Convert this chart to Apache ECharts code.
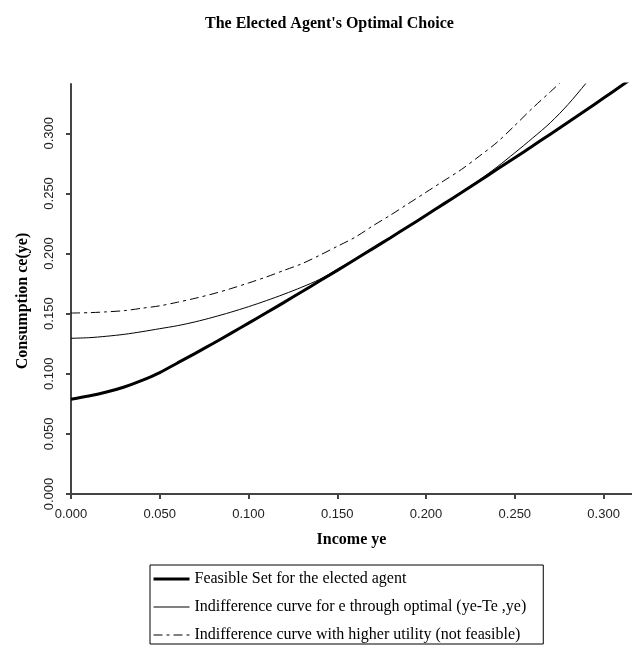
<!DOCTYPE html>
<html>
<head>
<meta charset="utf-8">
<script src="https://cdn.jsdelivr.net/npm/echarts@6/dist/echarts.min.js"></script>
<style>
  html, body { margin: 0; padding: 0; background: #fff; }
  #main { width: 632px; height: 646px; }
</style>
</head>
<body>
<div id="main"></div>
<script>
// income ye (x) values and the three curves
var incomeYe = [0, 0.01, 0.02, 0.03, 0.04, 0.05, 0.06, 0.07, 0.08, 0.09, 0.10,
  0.11, 0.12, 0.13, 0.14, 0.15, 0.16, 0.17, 0.18, 0.19, 0.20,
  0.21, 0.22, 0.23, 0.24, 0.25, 0.26, 0.27, 0.28, 0.29, 0.30, 0.31, 0.32];

var feasibleSet = [0.0788, 0.0815, 0.0848, 0.0890, 0.0945, 0.1010, 0.1090, 0.1170, 0.1252, 0.1336, 0.1421,
  0.1507, 0.1594, 0.1682, 0.1771, 0.1860, 0.1950, 0.2041, 0.2132, 0.2225, 0.2318,
  0.2413, 0.2508, 0.2604, 0.2700, 0.2797, 0.2894, 0.2993, 0.3092, 0.3192, 0.3293, 0.3395, 0.3498];

var indiffOptimal = [0.1295, 0.1300, 0.1312, 0.1328, 0.1350, 0.1375, 0.1400, 0.1432, 0.1470, 0.1512, 0.1558,
  0.1608, 0.1662, 0.1720, 0.1785, 0.1868, 0.1955, 0.2045, 0.2136, 0.2228, 0.2321,
  0.2416, 0.2512, 0.2612, 0.2720, 0.2838, 0.2960, 0.3088, 0.3240, 0.3415, 0.3600];

var indiffHigher = [0.1505, 0.1508, 0.1515, 0.1525, 0.1545, 0.1565, 0.1595, 0.1628, 0.1665, 0.1708, 0.1755,
  0.1805, 0.1860, 0.1915, 0.1985, 0.2060, 0.2135, 0.2230, 0.2320, 0.2415, 0.2510,
  0.2605, 0.2700, 0.2810, 0.2925, 0.3065, 0.3210, 0.3345, 0.3480];

var xTicks = [0, 0.05, 0.10, 0.15, 0.20, 0.25, 0.30];
var yTicks = [0, 0.05, 0.10, 0.15, 0.20, 0.25, 0.30];

var seriesNames = [
  'Feasible Set for the elected agent',
  'Indifference curve for e through optimal (ye-Te ,ye)',
  'Indifference curve with higher utility (not feasible)'
];

function pairs(ys) {
  return ys.map(function (y, i) { return [incomeYe[i], y]; });
}

var serif = '"Liberation Serif", "DejaVu Serif", serif';
var sans = '"Liberation Sans", Arial, sans-serif';

var myChart = echarts.init(document.getElementById('main'));
myChart.setOption({
  backgroundColor: '#fff',
  animation: false,
  title: {
    text: "The Elected Agent's Optimal Choice",
    left: 200,
    top: 11,
    textStyle: { fontFamily: serif, fontWeight: 'bold', fontSize: 16, color: '#000' }
  },
  grid: { left: 71, top: 84, right: 0, bottom: 152 },
  xAxis: {
    type: 'value',
    min: 0,
    max: 0.316,
    name: 'Income ye',
    nameLocation: 'middle',
    nameGap: 38,
    nameTextStyle: { fontFamily: serif, fontWeight: 'bold', fontSize: 16, color: '#000' },
    splitLine: { show: false },
    axisLine: { show: true, lineStyle: { color: '#444', width: 2 } },
    axisTick: { show: true, length: 5, customValues: xTicks, lineStyle: { color: '#444', width: 2 } },
    axisLabel: {
      customValues: xTicks,
      margin: 14,
      fontFamily: sans, fontSize: 13, color: '#222',
      formatter: function (v) { return v.toFixed(3); }
    }
  },
  yAxis: {
    type: 'value',
    min: 0,
    max: 0.341,
    name: 'Consumption ce(ye)',
    nameLocation: 'middle',
    nameGap: 40,
    nameTextStyle: { fontFamily: serif, fontWeight: 'bold', fontSize: 16, color: '#000', padding: [0, 24, 0, 0] },
    splitLine: { show: false },
    axisLine: { show: true, lineStyle: { color: '#444', width: 2 } },
    axisTick: { show: true, length: 5, customValues: yTicks, lineStyle: { color: '#444', width: 2 } },
    axisLabel: {
      customValues: yTicks,
      rotate: 90,
      margin: 15,
      fontFamily: sans, fontSize: 13, color: '#222',
      formatter: function (v) { return v.toFixed(3); }
    }
  },
  legend: {
    orient: 'vertical',
    left: 150,
    top: 565,
    itemWidth: 36,
    itemHeight: 14,
    itemGap: 12,
    padding: [6, 17, 1, 2],
    borderColor: '#000',
    borderWidth: 1,
    itemStyle: { opacity: 0 },
    textStyle: { fontFamily: serif, fontSize: 16, color: '#000' },
    data: [
      { name: seriesNames[0], lineStyle: { width: 3 } },
      { name: seriesNames[1], lineStyle: { width: 1 } },
      { name: seriesNames[2], lineStyle: { width: 1 } }
    ]
  },
  series: [
    {
      name: seriesNames[0], type: 'line', data: pairs(feasibleSet),
      showSymbol: false, symbol: 'none', smooth: 0.3,
      lineStyle: { color: '#000', width: 3 }, itemStyle: { color: '#000' }
    },
    {
      name: seriesNames[1], type: 'line', data: pairs(indiffOptimal),
      showSymbol: false, symbol: 'none', smooth: 0.3,
      lineStyle: { color: '#000', width: 1 }, itemStyle: { color: '#000' }
    },
    {
      name: seriesNames[2], type: 'line', data: pairs(indiffHigher),
      showSymbol: false, symbol: 'none', smooth: 0.3,
      lineStyle: { color: '#000', width: 1, type: [9, 4, 3, 4] }, itemStyle: { color: '#000' }
    }
  ]
});
</script>
</body>
</html>
